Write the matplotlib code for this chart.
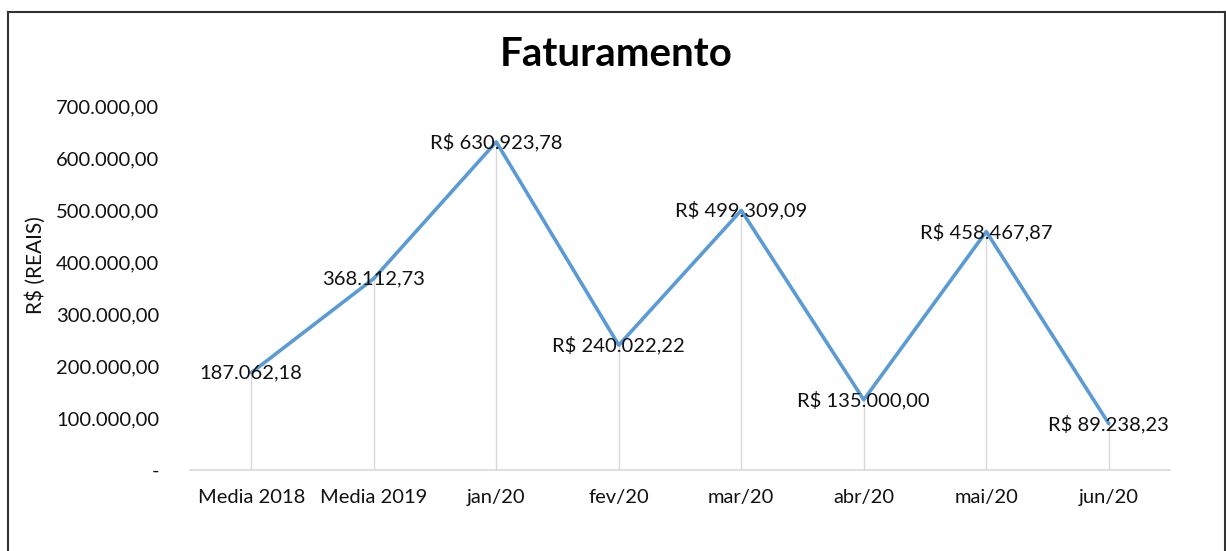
import matplotlib.pyplot as plt
from matplotlib.lines import Line2D

categorias = ['Media 2018', 'Media 2019', 'jan/20', 'fev/20', 'mar/20',
              'abr/20', 'mai/20', 'jun/20']
faturamento = [187062.18, 368112.73, 630923.78, 240022.22, 499309.09,
               135000.00, 458467.87, 89238.23]
rotulos = ['187.062,18', '368.112,73', 'R$ 630.923,78', 'R$ 240.022,22',
           'R$ 499.309,09', 'R$ 135.000,00', 'R$ 458.467,87', 'R$ 89.238,23']
yticks = [0, 100000, 200000, 300000, 400000, 500000, 600000, 700000]
ytick_labels = ['-', '100.000,00', '200.000,00', '300.000,00', '400.000,00',
                '500.000,00', '600.000,00', '700.000,00']

plt.rcParams['font.family'] = ['Lato', 'DejaVu Sans']

W, H = 1226, 551


def main():
    fig = plt.figure(figsize=(W / 100, H / 100), dpi=100)
    ax = fig.add_axes([190 / W, 1 - 470 / H, 980 / W, 364 / H])

    x = range(len(categorias))
    # drop lines
    ax.vlines(x, 0, faturamento, colors='#D9D9D9', linewidth=1, zorder=1)
    ax.plot(x, faturamento, color='#5B9BD5', linewidth=2.6, zorder=2,
            solid_capstyle='round')

    for xi, v, lab in zip(x, faturamento, rotulos):
        ax.text(xi, v, lab, ha='center', va='center', fontsize=14.5,
                color='#111111', zorder=3)

    ax.set_xlim(-0.5, len(categorias) - 0.5)
    ax.set_ylim(0, 700000)
    ax.set_xticks(list(x))
    ax.set_xticklabels(categorias, fontsize=14.5)
    ax.set_yticks(yticks)
    ax.set_yticklabels(ytick_labels, fontsize=14.5)
    ax.tick_params(axis='both', length=0, colors='#111111')
    ax.tick_params(axis='x', pad=14)
    ax.tick_params(axis='y', pad=22)

    for s in ['top', 'right', 'left']:
        ax.spines[s].set_visible(False)
    ax.spines['bottom'].set_color('#D9D9D9')
    ax.spines['bottom'].set_linewidth(1.2)

    ax.set_ylabel('R$ (REAIS)', fontsize=15, color='#111111')
    ax.yaxis.set_label_coords(46 / W, 1 - 265 / H, transform=fig.transFigure)

    fig.text(616 / W, 1 - 55 / H, 'Faturamento', ha='center', va='center',
             fontsize=29, fontweight='bold', color='#000000')

    # chart border (open at bottom)
    bx0, bx1, by = 7.5 / W, 1224.5 / W, 1 - 11.5 / H
    for xs, ys in [([bx0, bx0], [0, by]), ([bx0, bx1], [by, by]),
                   ([bx1, bx1], [by, 0])]:
        fig.add_artist(Line2D(xs, ys, transform=fig.transFigure,
                              color='#333333', linewidth=1.5))

    fig.savefig('out.png', dpi=100)


if __name__ == "__main__":
    main()
